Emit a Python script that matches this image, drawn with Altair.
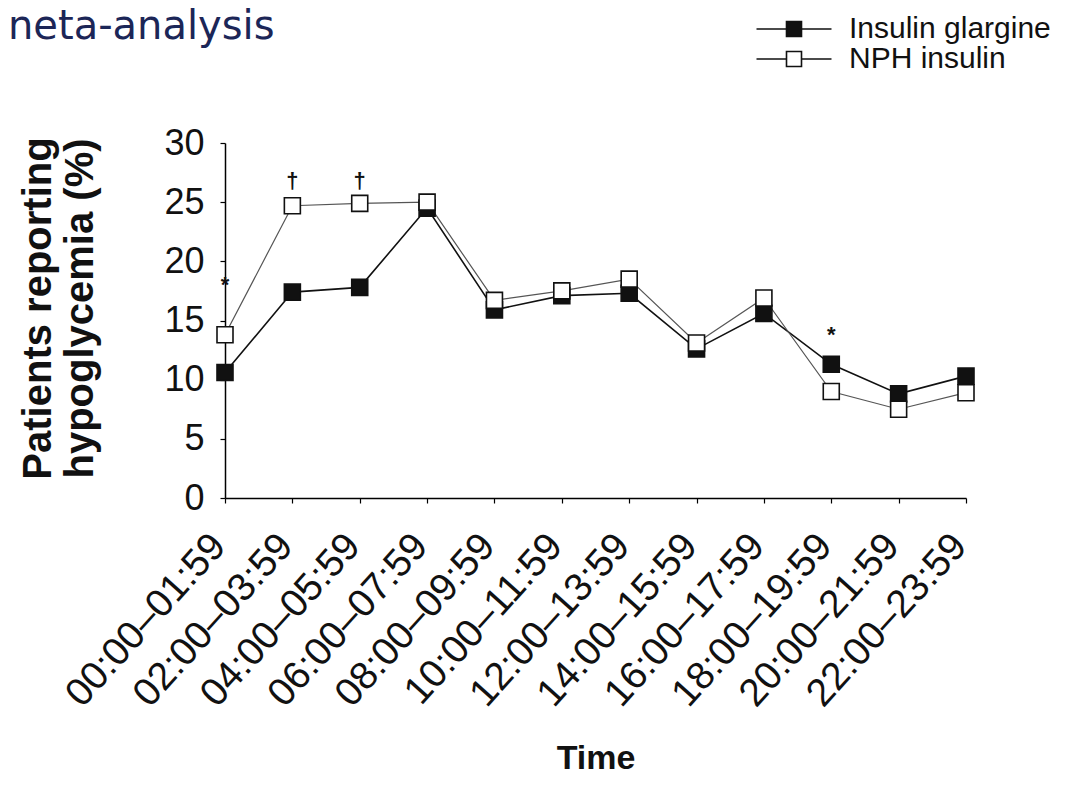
import altair as alt
import pandas as pd

times = ["00:00–01:59", "02:00–03:59", "04:00–05:59", "06:00–07:59",
         "08:00–09:59", "10:00–11:59", "12:00–13:59", "14:00–15:59",
         "16:00–17:59", "18:00–19:59", "20:00–21:59", "22:00–23:59"]
glargine = [10.6, 17.4, 17.8, 24.5, 15.9, 17.1, 17.3, 12.6, 15.6, 11.3, 8.8, 10.3]
nph = [13.8, 24.7, 24.9, 25.0, 16.7, 17.5, 18.5, 13.1, 16.9, 9.0, 7.5, 8.9]
series_names = ["Insulin glargine", "NPH insulin"]

ann_time = ["00:00–01:59", "02:00–03:59", "04:00–05:59", "18:00–19:59"]
ann_y = [18.0, 26.8, 26.8, 13.8]
ann_text = ["*", "†", "†", "*"]

rows = []
for t, v in zip(times, glargine):
    rows.append({"time": t, "series": series_names[0], "value": v})
for t, v in zip(times, nph):
    rows.append({"time": t, "series": series_names[1], "value": v})
df = pd.DataFrame(rows)
ann = pd.DataFrame({"time": ann_time, "value": ann_y, "text": ann_text})

FONT = "Liberation Sans"

x_enc = alt.X(
    "time:N", sort=times,
    scale=alt.Scale(type="point", padding=0),
    axis=alt.Axis(
        title="Time", labelAngle=-48, labelAlign="right", labelBaseline="middle",
        labelFont=FONT, labelFontSize=39, labelColor="#111", labelPadding=36,
        labelOffset=-7, tickSize=5, tickColor="black", domainColor="black",
        domainWidth=1.5, tickWidth=1.2, labelLimit=500,
        titleFont=FONT, titleFontSize=34, titleFontWeight="bold", titleColor="#111",
        titleY=260, titleBaseline="middle", labelOverlap=False,
    ),
)
y_enc = alt.Y(
    "value:Q",
    scale=alt.Scale(domain=[0, 30], nice=False),
    axis=alt.Axis(
        title=["Patients reporting", "hypoglycemia (%)"],
        values=[0, 5, 10, 15, 20, 25, 30],
        labelFont=FONT, labelFontSize=36, labelColor="#111", labelPadding=16,
        tickSize=5, tickColor="black", domainColor="black", domainWidth=1.5,
        tickWidth=1.2, grid=False,
        titleFont=FONT, titleFontSize=40, titleFontWeight="bold", titleColor="#111",
        titleLineHeight=42, titleX=-167, titleY=165, titleAngle=-90,
        titleBaseline="bottom", titleAlign="center",
    ),
)

base = alt.Chart(df)

line_g = base.transform_filter(alt.datum.series == series_names[0]).mark_line(
    color="#111111", strokeWidth=1.6).encode(x=x_enc, y=y_enc)
line_n = base.transform_filter(alt.datum.series == series_names[1]).mark_line(
    color="#555555", strokeWidth=1.2).encode(x=x_enc, y=y_enc)

points = base.mark_point(shape="square", size=256, filled=True, stroke="#111111",
                         strokeWidth=1.6, opacity=1).encode(
    x=x_enc, y=y_enc,
    fill=alt.Fill(
        "series:N",
        scale=alt.Scale(domain=series_names, range=["#111111", "#ffffff"]),
        legend=alt.Legend(
            title=None, orient="none", legendX=554, legendY=-129,
            symbolType="M-5,0H-1M1,0H5M-1,-1H1V1H-1Z", symbolSize=225,
            symbolStrokeColor="#111111", symbolStrokeWidth=1.6,
            labelFont=FONT, labelFontSize=30, labelColor="#111", labelOffset=40,
            rowPadding=0, labelLimit=400,
        ),
    ),
)

notes = alt.Chart(ann).mark_text(font=FONT, fontSize=22, fontWeight="bold", color="#111",
                                 baseline="middle").encode(
    x=alt.X("time:N", sort=times), y=alt.Y("value:Q"), text="text:N"
)

chart = alt.layer(line_g, line_n, points, notes).properties(
    width=741, height=355,
    title=alt.TitleParams(
        text="neta-analysis", anchor="start", frame="group", dx=-217, dy=65,
        font="DejaVu Sans", fontSize=40, fontWeight="normal", color="#1c2657",
        baseline="alphabetic", offset=0,
    ),
    autosize=alt.AutoSizeParams(type="none"),
    padding={"left": 217, "top": 135, "right": 90, "bottom": 276},
).configure_view(stroke=None)

chart.save("out.html", embed_options={"renderer": "svg", "actions": False})
